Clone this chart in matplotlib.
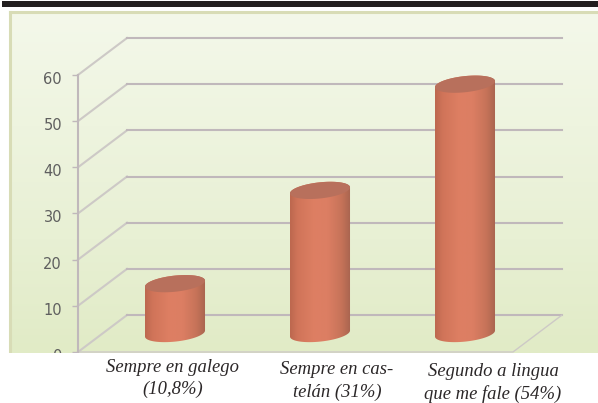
#!/usr/bin/env python3
"""3D style cylinder chart with pale green panel."""

import numpy as np
import matplotlib
matplotlib.use('Agg')
import matplotlib.pyplot as plt
from matplotlib.colors import LinearSegmentedColormap
from matplotlib.patches import Rectangle, Polygon
from matplotlib.transforms import ScaledTranslation

# Data
categories = [0, 1, 2]
values = [10.8, 31, 54]
y_ticks = [0, 10, 20, 30, 40, 50, 60]
cat_labels = ['Sempre en galego\n(10,8%)', 'Sempre en cas-\ntelán (31%)', 'Segundo a lingua\nque me fale (54%)']

W, H = 598, 403
fig = plt.figure(figsize=(W / 100, H / 100), dpi=100, facecolor='white')


def px_box(x0, y0, x1, y1):
    # pixel box (from top left) to figure fraction
    return [x0 / W, 1 - y1 / H, (x1 - x0) / W, (y1 - y0) / H]


# Panel background
bg = fig.add_axes(px_box(10, 12, 598, 353), zorder=-1)
panel_cm = LinearSegmentedColormap.from_list('panel', ['#f4f8ea', '#eef4df', '#e8f0d4', '#e1ebc6'])
bg.imshow(np.linspace(0, 1, 200).reshape(-1, 1), cmap=panel_cm, aspect='auto', extent=(0, 1, 0, 1))
bg.set_xticks([])
bg.set_yticks([])
for side in ['right', 'bottom']:
    bg.spines[side].set_visible(False)
for side in ['left', 'top']:
    bg.spines[side].set_color('#d8dcb6')
    bg.spines[side].set_linewidth(2.2)

# Main axes: front left axis at x=78, back wall top at y=38
ax = fig.add_axes(px_box(78, 38, 562, 352), zorder=1)
ax.patch.set_alpha(0)
ax.set_xlim(-0.669, 2.669)
ax.set_ylim(0, 68)
xlim = ax.get_xlim()
depth_x = 0.338
depth_y = 8
grid_col = '#c0b8bb'

for v in y_ticks:
    ax.plot([xlim[0], xlim[0] + depth_x], [v, v + depth_y], color='#cdc9c6', lw=1.5, clip_on=False, zorder=1)
    ax.plot([xlim[0] + depth_x, xlim[1]], [v + depth_y, v + depth_y], color=grid_col, lw=1.5, clip_on=False, zorder=1)
# Floor edges
ax.plot([xlim[1], xlim[1] - depth_x, xlim[0]], [depth_y, 0, 0], color='#cdc9c6', lw=1.0, clip_on=False, zorder=1)

for side in ['top', 'right', 'bottom']:
    ax.spines[side].set_visible(False)
ax.spines['left'].set_bounds(0, 60)
ax.spines['left'].set_color(grid_col)
ax.spines['left'].set_linewidth(1.5)
ax.set_xticks([])
ax.set_yticks(y_ticks)
ax.tick_params(axis='y', length=4, width=1.0, color=grid_col, labelcolor='#5f5f5f', labelsize=10.5, pad=7.5)
# the numbers sit a little below their ticks
shift = ScaledTranslation(0, -3 / 100, fig.dpi_scale_trans)
for lab in ax.get_yticklabels():
    lab.set_transform(lab.get_transform() + shift)

# Cylinders
half_w = 0.207
ell_h = 1.75
tilt = 0.65
base = depth_y / 2
t = np.linspace(0, 2 * np.pi, 121)
body_cm = LinearSegmentedColormap.from_list(
    'body', [(0, '#bd684f'), (0.12, '#d07459'), (0.4, '#de7f63'), (0.62, '#dc7e63'),
             (0.85, '#c67359'), (1, '#a8644f')])
for c, v in zip(categories, values):
    ex = c + half_w * np.cos(t)
    top_y = base + v + ell_h * np.sin(t) + tilt * np.cos(t)
    # body outline: bottom half of base ellipse, then top ellipse upper half
    lower = t[60:121]
    upper = t[0:61]
    xs = np.r_[c + half_w * np.cos(lower), c + half_w * np.cos(upper)]
    ys = np.r_[base + ell_h * np.sin(lower) + tilt * np.cos(lower),
               base + v + ell_h * np.sin(upper) + tilt * np.cos(upper)]
    body = Polygon(np.c_[xs, ys], closed=True, transform=ax.transData, facecolor='none', edgecolor='none')
    ax.add_patch(body)
    im = ax.imshow(np.linspace(0, 1, 100).reshape(1, -1), cmap=body_cm, aspect='auto',
                   extent=(c - half_w, c + half_w, base - ell_h - tilt, base + v + ell_h + tilt), zorder=3)
    im.set_clip_path(body)
    ax.fill(ex, top_y, color='#b8705c', lw=0, zorder=4)
ax.set_xlim(xlim)
ax.set_ylim(0, 68)
ax.set_aspect('auto')

# White strip under the panel, cuts the 0 label like the original
fig.add_artist(Rectangle((0, 0), 1, 1 - 353 / H, transform=fig.transFigure, facecolor='white', edgecolor='none', zorder=5))
# Top black rule
fig.add_artist(Rectangle((2 / W, 1 - 7 / H), 1, 6 / H, transform=fig.transFigure, facecolor='#231f20', edgecolor='none', zorder=5))

# Category labels
label_x = [173, 337, 493]
label_y = [378.5, 381, 383]
for lab, lx, ly in zip(cat_labels, label_x, label_y):
    fig.text(lx / W, 1 - ly / H, lab, family='Liberation Serif', style='italic', fontsize=13.4,
             color='#2b2728', ha='center', va='center', linespacing=1.42, zorder=6)

fig.savefig('out.png', dpi=100)
